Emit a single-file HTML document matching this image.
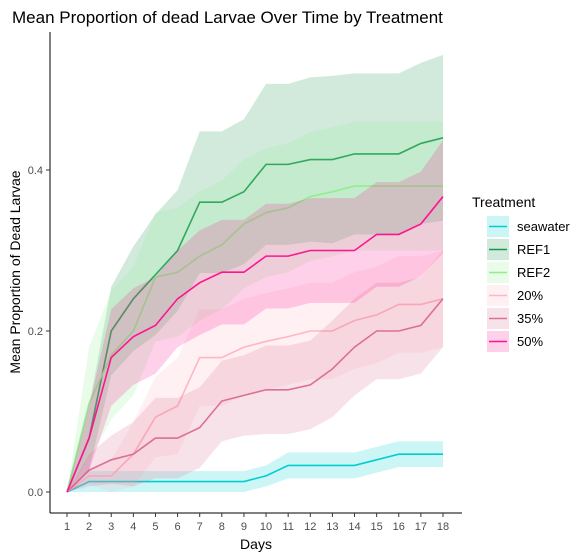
<!DOCTYPE html>
<html><head><meta charset="utf-8"><style>
body{margin:0;background:#fff;}
svg{display:block;font-family:"Liberation Sans",sans-serif;}
</style></head><body>
<svg id="chart" width="583" height="559">
<rect width="583" height="559" fill="#fff"/>
<text x="12" y="23" font-size="17" fill="#000">Mean Proportion of dead Larvae Over Time by Treatment</text>
<g id="marks"></g>
<line x1="50" y1="32" x2="50" y2="513" stroke="#000" stroke-width="1"/>
<line x1="50" y1="513" x2="462" y2="513" stroke="#000" stroke-width="1"/>
<g id="axes"></g>
<text x="256" y="549" font-size="14" text-anchor="middle">Days</text>
<text transform="translate(20,272) rotate(-90)" font-size="14" text-anchor="middle">Mean Proportion of Dead Larvae</text>
<text x="472" y="207" font-size="14">Treatment</text>
<g id="legend"></g>
</svg>
<script>
const days=[1,2,3,4,5,6,7,8,9,10,11,12,13,14,15,16,17,18];
const yTicks=[0,0.2,0.4];
const tickLabels=["0.0","0.2","0.4"];
const names=["seawater","REF1","REF2","20%","35%","50%"];
const colors=["#00CED1","#1a9850","#90EE90","#FFB6C1","#DB7093","#FF1493"];
const seawater=[0,0.013,0.013,0.013,0.013,0.013,0.013,0.013,0.013,0.02,0.033,0.033,0.033,0.033,0.04,0.047,0.047,0.047];
const ref1=[0,0.067,0.2,0.24,0.27,0.3,0.36,0.36,0.373,0.407,0.407,0.413,0.413,0.42,0.42,0.42,0.433,0.44];
const ref2=[0,0.11,0.17,0.2,0.267,0.273,0.293,0.307,0.333,0.347,0.353,0.367,0.373,0.38,0.38,0.38,0.38,0.38];
const p20=[0,0.02,0.02,0.047,0.093,0.107,0.167,0.167,0.18,0.187,0.193,0.2,0.2,0.213,0.22,0.233,0.233,0.24];
const p35=[0,0.027,0.04,0.047,0.067,0.067,0.08,0.113,0.12,0.127,0.127,0.133,0.153,0.18,0.2,0.2,0.207,0.24];
const p50=[0,0.067,0.167,0.193,0.207,0.24,0.26,0.273,0.273,0.293,0.293,0.3,0.3,0.3,0.32,0.32,0.333,0.367];
const seaSE=[0,0.013,0.013,0.013,0.013,0.013,0.013,0.013,0.013,0.013,0.016,0.016,0.016,0.016,0.016,0.016,0.016,0.016];
const ref1SE=[0,0.04,0.055,0.065,0.075,0.075,0.088,0.088,0.09,0.1,0.1,0.102,0.104,0.1,0.1,0.1,0.1,0.103];
const ref2SE=[0,0.07,0.08,0.08,0.08,0.08,0.08,0.08,0.08,0.08,0.08,0.08,0.08,0.08,0.08,0.08,0.08,0.08];
const p20SE=[0,0.01,0.02,0.04,0.05,0.06,0.06,0.06,0.06,0.06,0.06,0.06,0.06,0.06,0.06,0.06,0.06,0.06];
const p35SE=[0,0.02,0.03,0.04,0.05,0.05,0.05,0.05,0.05,0.055,0.055,0.055,0.06,0.06,0.06,0.06,0.06,0.06];
const p50SE=[0,0.04,0.06,0.06,0.06,0.06,0.065,0.065,0.065,0.065,0.065,0.065,0.065,0.065,0.065,0.065,0.065,0.07];
const series=[seawater,ref1,ref2,p20,p35,p50];
const ses=[seaSE,ref1SE,ref2SE,p20SE,p35SE,p50SE];
const NS="http://www.w3.org/2000/svg";
const xS=d=>67+(d-1)*(376/17);
const yS=v=>492-v*805;
function mk(tag,attrs,parent){const e=document.createElementNS(NS,tag);for(const k in attrs)e.setAttribute(k,attrs[k]);parent.appendChild(e);return e;}
const marks=document.getElementById('marks'),axes=document.getElementById('axes'),legend=document.getElementById('legend');
series.forEach((s,i)=>{
  const se=ses[i];
  let pts=days.map((d,j)=>xS(d)+","+yS(s[j]+se[j]));
  pts=pts.concat(days.slice().reverse().map((d,jj)=>{const j=days.length-1-jj;return xS(d)+","+yS(Math.max(0,s[j]-se[j]));}));
  const b=mk('polygon',{points:pts.join(' '),fill:colors[i],'fill-opacity':0.2},marks);
  
  
  const l=mk('polyline',{points:days.map((d,j)=>xS(d)+","+yS(s[j])).join(' '),fill:'none',stroke:colors[i],'stroke-width':1.6},marks);
  
  
  const ly=216+i*23;
  const r=mk('rect',{x:487,y:ly,width:22,height:21,fill:colors[i],'fill-opacity':0.2},legend);
  
  
  mk('line',{x1:489,x2:507,y1:ly+10.5,y2:ly+10.5,stroke:colors[i],'stroke-width':1.6},legend);
  const t=mk('text',{x:517,y:ly+15,'font-size':13},legend);
  t.textContent=names[i];
  
  
});
yTicks.forEach((v,i)=>{
  mk('line',{x1:46,x2:50,y1:yS(v),y2:yS(v),stroke:'#333'},axes);
  const t=mk('text',{x:43,y:yS(v)+4,'font-size':11,'text-anchor':'end',fill:'#4d4d4d'},axes);
  t.textContent=tickLabels[i];
  
  
});
days.forEach(d=>{
  mk('line',{x1:xS(d),x2:xS(d),y1:513,y2:517,stroke:'#333'},axes);
  const t=mk('text',{x:xS(d),y:530,'font-size':11,'text-anchor':'middle',fill:'#4d4d4d'},axes);
  t.textContent=d;
  
  
});
</script>
</body></html>
